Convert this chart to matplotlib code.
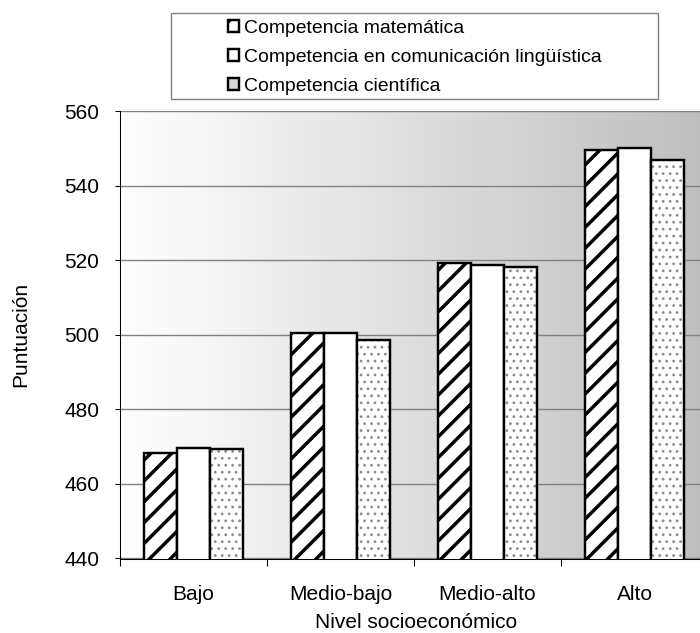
import numpy as np
import matplotlib
matplotlib.use('Agg')
import matplotlib.pyplot as plt
from matplotlib.patches import Patch, Rectangle

# ---- data ----
categories = ['Bajo', 'Medio-bajo', 'Medio-alto', 'Alto']
series_names = ['Competencia matemática',
                'Competencia en comunicación lingüística',
                'Competencia científica']
matematica = [468.2, 500.5, 519.3, 549.5]
linguistica = [469.7, 500.4, 518.7, 550.0]
cientifica = [469.4, 498.7, 518.2, 546.8]
yticks = [440, 460, 480, 500, 520, 540, 560]
xlabel = 'Nivel socioeconómico'
ylabel = 'Puntuación'

plt.rcParams['font.family'] = ['Liberation Sans', 'DejaVu Sans']
plt.rcParams['hatch.linewidth'] = 2.0

fig = plt.figure(figsize=(5.6, 5.064), dpi=125)
ax = fig.add_axes([120 / 700, 1 - 558.5 / 633, 588 / 700, (558.5 - 111) / 633])

# gradient background
g = np.linspace(1.0, 0.745, 256)
grad = np.dstack([g, g, g])
ax.imshow(grad, extent=(-0.5, 3.5, 440, 560), aspect='auto', zorder=0,
          interpolation='bilinear')

x = np.arange(len(categories))
w = 0.2245
ax.bar(x - w, matematica, w, facecolor='white', edgecolor='black',
       hatch='//', linewidth=1.4, zorder=2)
ax.bar(x, linguistica, w, facecolor='white', edgecolor='black',
       linewidth=1.4, zorder=2)
fill = ax.bar(x + w, cientifica, w, facecolor='white', edgecolor='#8c8c8c',
              hatch='...', linewidth=0, zorder=2)
for p in fill:
    if hasattr(p, 'set_hatch_linewidth'):
        p.set_hatch_linewidth(0.8)
ax.bar(x + w, cientifica, w, facecolor='none', edgecolor='black',
       linewidth=1.4, zorder=3)

ax.set_xlim(-0.5, 3.5)
ax.set_ylim(440, 560)

ax.set_axisbelow(True)
ax.yaxis.grid(True, color='#808080', linewidth=0.8)
ax.set_yticks(yticks)
ax.tick_params(axis='y', direction='out', length=3, width=0.6, pad=9,
               labelsize=12, colors='black')
ax.set_xticks(x)
ax.set_xticklabels(categories)
ax.set_xticks(np.arange(-0.5, 3.6, 1.0), minor=True)
ax.tick_params(axis='x', which='major', length=0, pad=15, labelsize=12)
ax.tick_params(axis='x', which='minor', length=4, width=0.6, direction='out')

for s in ['top', 'right']:
    ax.spines[s].set_visible(False)
for s in ['left', 'bottom']:
    ax.spines[s].set_linewidth(0.6)
    ax.spines[s].set_color('black')

fig.text(416 / 700, 1 / 633, xlabel, ha='center', va='bottom',
         fontsize=12)
fig.text(21 / 700, 1 - 334 / 633, ylabel, ha='center', va='center',
         rotation=90, fontsize=12)

# legend box
rect = Rectangle((171 / 700, 1 - 99 / 633), 487 / 700, 86 / 633,
                 transform=fig.transFigure, facecolor='white',
                 edgecolor='#808080', linewidth=0.8, zorder=1)
fig.add_artist(rect)

handles = [Patch(facecolor='white', edgecolor='black', hatch='//', linewidth=1.4),
           Patch(facecolor='white', edgecolor='black', linewidth=1.4),
           Patch(facecolor='#d9d9d9', edgecolor='black', linewidth=1.4)]
fig.legend(handles, series_names, loc='upper left',
           bbox_to_anchor=(228 / 700, 1 - 20 / 633), frameon=False,
           borderpad=0, borderaxespad=0, fontsize=11.2,
           handlelength=0.55, handleheight=0.55, handletextpad=0.25,
           labelspacing=0.62)

fig.savefig('out.png', dpi=125)
